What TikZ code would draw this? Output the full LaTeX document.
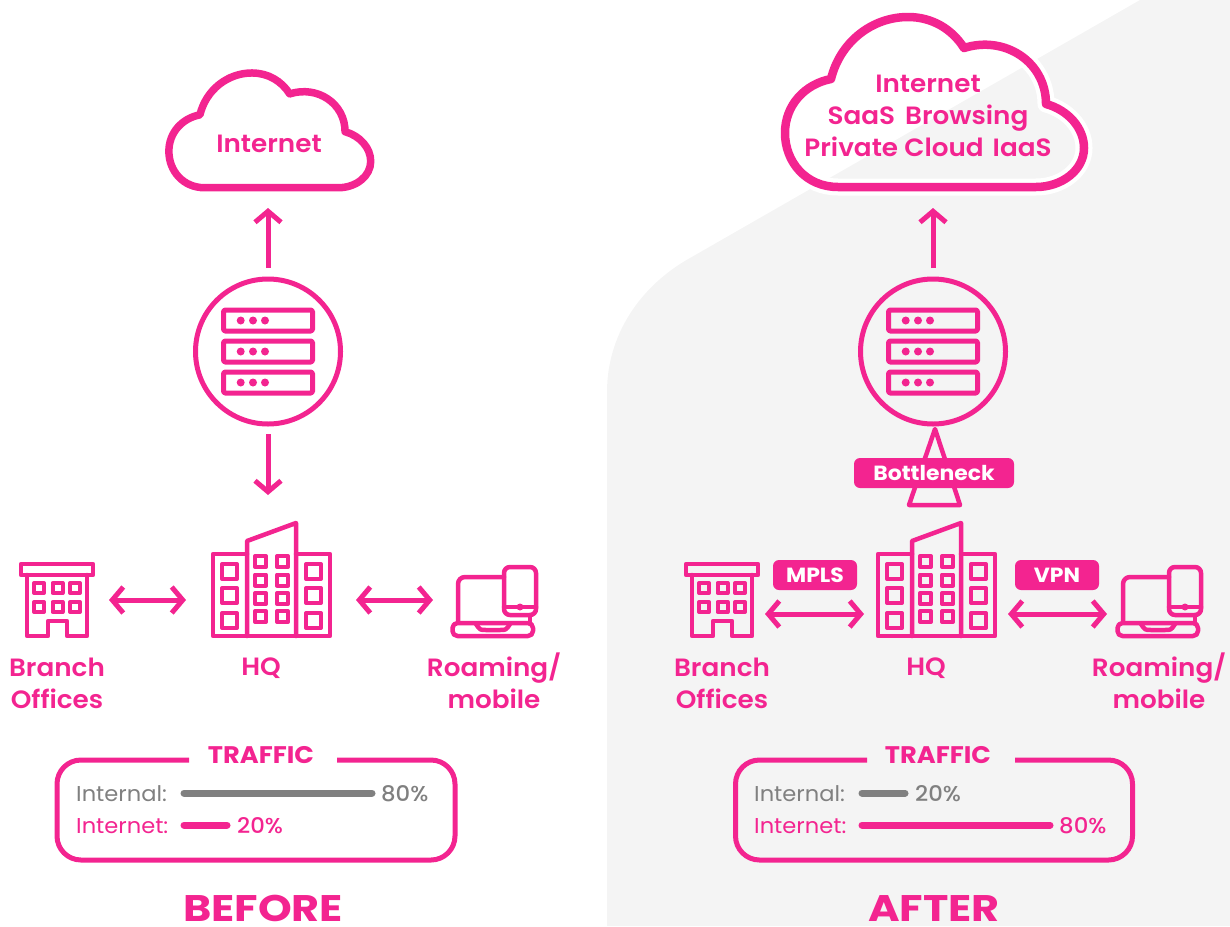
\documentclass[tikz,border=0pt]{standalone}
\usepackage{fontspec}
\setmainfont{Poppins SemiBold}[FakeStretch=1.05]
\newfontfamily\fm{Poppins Medium}[FakeStretch=1.06]
\newfontfamily\fr{Poppins}[FakeStretch=1.05]
\newfontfamily\fb{Poppins Bold}[FakeStretch=1.07]
\newfontfamily\fbb{Poppins Bold}[FakeStretch=1.16]
\usetikzlibrary{arrows.meta}
\definecolor{pk}{HTML}{F32490}
\definecolor{gy}{HTML}{808080}
\definecolor{bgc}{HTML}{F4F4F4}
\tikzset{
  ln/.style={draw=pk,line width=4.5pt,line join=round,line cap=round},
  thin ln/.style={draw=pk,line width=4pt,line join=round},
  arr/.style={draw=pk,line width=5pt,-{Straight Barb[length=11pt,width=26pt,line width=5pt]}},
  darr/.style={draw=pk,line width=5pt,{Straight Barb[length=11pt,width=26pt,line width=5pt]}-{Straight Barb[length=11pt,width=26pt,line width=5pt]}},
  lab/.style={text=pk,font=\fontsize{25}{32}\selectfont,align=center,inner sep=0pt},
  badge/.style={fill=pk,text=white,rounded corners=6pt,minimum height=30pt,inner sep=0pt,font=\fb\fontsize{20.5}{24}\selectfont},
  bar/.style={line width=7pt,line cap=round},
  small/.style={font=\fr\fontsize{21.5}{26}\selectfont,inner sep=0pt,anchor=west},
  pct/.style={font=\fm\fontsize{21.5}{26}\selectfont,inner sep=0pt,anchor=west},
  ttl/.style={text=pk,font=\fb\fontsize{24}{28}\selectfont,inner sep=0pt},
  big/.style={text=pk,font=\fbb\fontsize{37}{40}\selectfont,inner sep=0pt},
  srvc/.style={circle,draw=pk,line width=5pt,minimum size=145pt,inner sep=0pt},
}
\newcommand{\cloudpath}{(838,187) .. controls (806,187) and (785,162) .. (785,133) .. controls (785,105) and (805,84) .. (831,79) .. controls (840,42) and (872,17) .. (908,17) .. controls (932,17) and (952,29) .. (964,48) .. controls (1005,35) and (1046,62) .. (1046,104) .. controls (1068,110) and (1084,128) .. (1084,148) .. controls (1084,170) and (1062,187) .. (1036,187) -- cycle}
\newcommand{\servericon}{%
  \foreach \y in {310,341,372}{
    \draw[ln,line width=5pt,rounded corners=1.5pt] (223.5,\y) rectangle (312.5,\y+21);
    \foreach \x in {240.7,253,265} \fill[pk] (\x,\y+10.5) circle (4pt);
  }}
\newcommand{\hqicon}{%
  \draw[ln] (247,554) -- (213,554) -- (213,636) -- (330,636) -- (330,554) -- (296,554);
  \draw[ln] (247,636) -- (247,541) -- (296,523) -- (296,636);
  \foreach \y in {564,588,613}{
    \draw[thin ln] (222,\y) rectangle (237,\y+15);
    \draw[thin ln] (306,\y) rectangle (321,\y+15);
  }
  \foreach \y in {556,574.5,593,611}{
    \draw[thin ln] (255,\y) rectangle (266,\y+11);
    \draw[thin ln] (277,\y) rectangle (288,\y+11);
  }}
\newcommand{\branchicon}{%
  \draw[ln] (21,564) rectangle (93,575);
  \draw[ln] (27,575) -- (27,636) -- (48,636) -- (48,621) -- (67,621) -- (67,636) -- (87,636) -- (87,575);
  \foreach \y in {583,602}\foreach \x in {34,52.5,70}
    \draw[thin ln] (\x,\y) rectangle (\x+10,\y+10);
  }
\newcommand{\laptopicon}{%
  \draw[ln,rounded corners=7pt] (458,622) -- (458,577) -- (504,577);
  \draw[ln,rounded corners=5pt] (452.5,623) rectangle (533,636);
  \draw[ln,rounded corners=6pt] (504,567) rectangle (536,615);
  \draw[ln] (504,607) -- (536,607);
  \fill[pk] (520,607) circle (3.5pt);
  \draw[ln] (530,615) -- (530,623);
  \draw[ln] (476,624) .. controls (480,630) .. (486,630) -- (500,630) .. controls (506,630) .. (510,624);
  }
\begin{document}
\begin{tikzpicture}[x=1pt,y=-1pt]
\useasboundingbox (0,0) rectangle (1230,926);
\fill[bgc] (607,926) -- (607,392) .. controls (607,335) and (640,286) .. (690,258) -- (1140,0) -- (1230,0) -- (1230,926) -- cycle;

% ---------- BEFORE ----------
\begin{scope}[shift={(-361,61.5)},scale=0.675]
  \draw[line width=7.5pt,draw=pk,line join=round] \cloudpath;
\end{scope}
\node[lab] (inet1) at (269,144) {Internet};
\node[srvc] (srv1) at (268,351.5) {};
\servericon
\hqicon
\branchicon
\laptopicon
\coordinate (u1a) at (268,268); \coordinate (u1b) at (268,208);
\coordinate (d1a) at (268,434); \coordinate (d1b) at (268,495);
\draw[arr] (u1a) -- (u1b);
\draw[arr] (d1a) -- (d1b);
\coordinate (bh1a) at (109,600); \coordinate (bh1b) at (186,600);
\coordinate (hr1a) at (356,600); \coordinate (hr1b) at (433,600);
\draw[darr] (bh1a) -- (bh1b);
\draw[darr] (hr1a) -- (hr1b);
\node[lab] (br1) at (57,683) {Branch\\Offices};
\node[lab] (hq1) at (261,668) {HQ};
\node[lab] (rm1) at (494,681) {Roaming/\\mobile};
\draw[pk,line width=5pt,rounded corners=24pt] (189,760) -- (57,760) -- (57,860) -- (455,860) -- (455,760) -- (337,760);
\node[ttl] (tr1) at (261,755) {TRAFFIC};
\node[small,text=gy] (in1) at (76,793.5) {Internal:};
\draw[bar,gy] (184,793) -- (372,793);
\node[pct,text=gy] (p1a) at (381,793.5) {80\%};
\node[small,text=pk] (et1) at (76,826) {Internet:};
\draw[bar,pk] (184,825) -- (227,825);
\node[pct,text=pk] (p1b) at (237,826) {20\%};
\node[big] (before) at (263,908) {BEFORE};

% ---------- AFTER ----------
\draw[line width=17pt,draw=white,line join=round] \cloudpath;
\draw[line width=8.5pt,draw=pk,line join=round] \cloudpath;
\node[lab] (inet2) at (928,116) {Internet\\SaaS\hspace{10pt}Browsing\\Private Cloud\hspace{9pt}IaaS};
\begin{scope}[shift={(665,0)}]
  \servericon
  \hqicon
  \branchicon
  \laptopicon
\end{scope}
\node[srvc] (srv2) at (933,351.5) {};
\coordinate (u2a) at (933,268); \coordinate (u2b) at (933,208);
\draw[arr] (u2a) -- (u2b);
\coordinate (tri1) at (935,429); \coordinate (tri2) at (960,505); \coordinate (tri3) at (909,505);
\draw[ln] (tri1) -- (tri2) -- (tri3) -- cycle;
\node[badge,minimum width=160pt] (bn) at (934,473) {Bottleneck};
\node[badge,minimum width=84pt] (mpls) at (815,575) {MPLS};
\node[badge,minimum width=84pt] (vpn) at (1057,575) {VPN};
\coordinate (bh2a) at (765,614); \coordinate (bh2b) at (864,614);
\coordinate (hr2a) at (1008,614); \coordinate (hr2b) at (1107,614);
\draw[darr] (bh2a) -- (bh2b);
\draw[darr] (hr2a) -- (hr2b);
\node[lab] (br2) at (722,683) {Branch\\Offices};
\node[lab] (hq2) at (926,668) {HQ};
\node[lab] (rm2) at (1159,681) {Roaming/\\mobile};
\draw[pk,line width=5pt,rounded corners=24pt] (867,760) -- (735.5,760) -- (735.5,860) -- (1132.5,860) -- (1132.5,760) -- (1015,760);
\node[ttl] (tr2) at (938,755) {TRAFFIC};
\node[small,text=gy] (in2) at (754,793.5) {Internal:};
\draw[bar,gy] (862,793) -- (905,793);
\node[pct,text=gy] (p2a) at (915,793.5) {20\%};
\node[small,text=pk] (et2) at (754,826) {Internet:};
\draw[bar,pk] (862,825) -- (1050,825);
\node[pct,text=pk] (p2b) at (1059,826) {80\%};
\node[big] (after) at (934,908) {AFTER};
\end{tikzpicture}
\end{document}
